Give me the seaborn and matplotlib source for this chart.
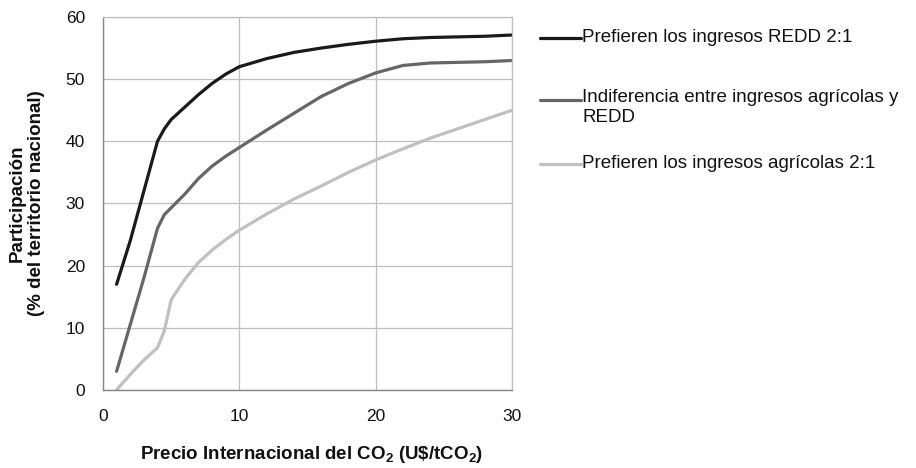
import pandas as pd
import matplotlib.pyplot as plt
from matplotlib.lines import Line2D
import seaborn as sns

# Precio del CO2 (U$/tCO2)
precio = [1, 2, 3, 4, 4.5, 5, 6, 7, 8, 9, 10, 12, 14, 16, 18, 20, 22, 24, 26, 28, 30]

# Participacion (% del territorio nacional)
prefieren_redd = [17, 24, 32, 40, 42, 43.5, 45.5, 47.5, 49.3, 50.8, 52, 53.3, 54.3, 55,
                  55.6, 56.1, 56.5, 56.7, 56.8, 56.9, 57.1]
indiferencia = [3, 10.5, 18, 26, 28.2, 29.3, 31.5, 34, 36, 37.6, 39, 41.8, 44.5, 47.2,
                49.3, 51, 52.2, 52.6, 52.7, 52.8, 53]
prefieren_agri = [0, 2.5, 4.8, 6.8, 9.5, 14.5, 17.8, 20.5, 22.5, 24.2, 25.7, 28.3, 30.7,
                  32.8, 35, 37, 38.8, 40.5, 42, 43.5, 45]

series_names = [
    "Prefieren los ingresos REDD 2:1",
    "Indiferencia entre ingresos agrícolas y\nREDD",
    "Prefieren los ingresos agrícolas 2:1",
]
colors = ["#1a1a1a", "#666666", "#c0c0c0"]

x_ticks = [0, 10, 20, 30]
y_ticks = [0, 10, 20, 30, 40, 50, 60]

sns.set_style("white")
plt.rcParams["font.family"] = ["Liberation Sans", "DejaVu Sans"]
plt.rcParams["text.color"] = "#111111"
plt.rcParams["axes.labelcolor"] = "#111111"
plt.rcParams["xtick.color"] = "#111111"
plt.rcParams["ytick.color"] = "#111111"

df = pd.DataFrame({
    "Precio": precio * 3,
    "Participacion": prefieren_redd + indiferencia + prefieren_agri,
    "Serie": [series_names[0]] * len(precio) + [series_names[1]] * len(precio)
             + [series_names[2]] * len(precio),
})

fig = plt.figure(figsize=(9.16, 4.68), dpi=100)
ax = fig.add_axes([0.1124, 0.1667, 0.4465, 0.797])

sns.lineplot(data=df, x="Precio", y="Participacion", hue="Serie",
             palette=dict(zip(series_names, colors)), linewidth=2.3,
             sort=False, legend=False, ax=ax)

ax.set_xlim(0, 30)
ax.set_ylim(0, 60)
ax.set_xticks(x_ticks)
ax.set_yticks(y_ticks)
ax.grid(True, color="#bfbfbf", linewidth=0.9)
ax.set_axisbelow(True)
ax.tick_params(axis="x", length=0, pad=14, labelsize=12.5)
ax.tick_params(axis="y", length=0, pad=13, labelsize=12.5)
for side in ["left", "bottom"]:
    ax.spines[side].set_color("#868686")
    ax.spines[side].set_linewidth(1.0)
for side in ["top", "right"]:
    ax.spines[side].set_color("#bfbfbf")
    ax.spines[side].set_linewidth(0.9)

ax.set_xlabel("Precio Internacional del CO$_\\mathregular{2}$ (U\\$/tCO$_\\mathregular{2}$)",
              fontsize=13.5, fontweight="bold")
ax.set_ylabel("Participación\n(% del territorio nacional)", fontsize=13.5,
              fontweight="bold", linespacing=1.2)
ax.xaxis.label.set_va("center")
ax.xaxis.set_label_coords(0.51, -0.172)
ax.yaxis.label.set_va("center")
ax.yaxis.set_label_coords(-0.186, 0.5)

# legend drawn by hand to keep Excel-style positions
legend_y = [38, 100, 164]
for name, col, ypix in zip(series_names, colors, legend_y):
    yf = 1 - ypix / 468
    fig.add_artist(Line2D([540 / 916, 581 / 916], [yf, yf], color=col, linewidth=2.3,
                          transform=fig.transFigure))
    if "\n" in name:
        fig.text(582 / 916, 1 - (ypix - 11) / 468, name, fontsize=13.5, va="top",
                 linespacing=1.2, transform=fig.transFigure)
    else:
        fig.text(582 / 916, yf, name, fontsize=13.5, va="center",
                 transform=fig.transFigure)

fig.savefig("out.png", dpi=100)
